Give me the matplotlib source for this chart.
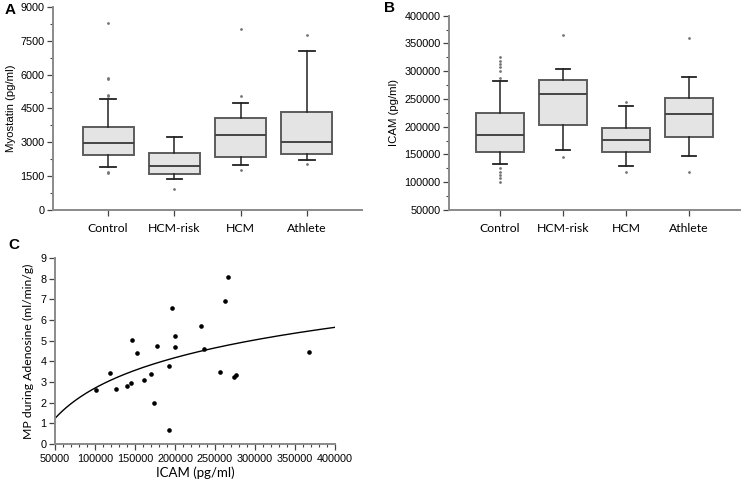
import numpy as np
import matplotlib
matplotlib.use("Agg")
import matplotlib.pyplot as plt
from matplotlib.ticker import MultipleLocator

# ---------------- data ----------------
groups = ["Control", "HCM-risk", "HCM", "Athlete"]

# Panel A: Myostatin (pg/ml) box statistics
myo_med = [2950, 1930, 3330, 2995]
myo_q1 = [2435, 1610, 2360, 2495]
myo_q3 = [3690, 2540, 4100, 4365]
myo_wlo = [1920, 1360, 1975, 2200]
myo_whi = [4925, 3245, 4735, 7035]
myo_fliers = [
    [8290, 5870, 5790, 5120, 5050, 1700, 1625],
    [915],
    [8010, 5045, 1755],
    [7745, 2035],
]

# Panel B: ICAM (pg/ml) box statistics
icam_med = [185100, 258300, 176000, 223500]
icam_q1 = [153900, 202500, 155000, 181500]
icam_q3 = [224700, 284700, 198300, 251700]
icam_wlo = [132200, 157500, 128600, 146600]
icam_whi = [282900, 304500, 237300, 290100]
icam_fliers = [
    [325000, 319000, 313000, 307000, 301000, 287000,
     125000, 119000, 113000, 107000, 101000],
    [365800, 146000],
    [244500, 119000],
    [360300, 118400],
]

# Panel C: ICAM vs MP during adenosine
sc_icam = [100800, 118750, 125800, 139600, 144600, 146700, 152900, 161300,
           169600, 174200, 177100, 192500, 192500, 196300, 200000, 200000,
           232500, 235800, 256700, 262500, 266700, 274200, 276300, 367500]
sc_mp = [2.63, 3.44, 2.68, 2.83, 2.96, 5.04, 4.38, 3.12,
         3.39, 1.99, 4.75, 3.77, 0.66, 6.58, 5.22, 4.70,
         5.72, 4.62, 3.47, 6.92, 8.06, 3.26, 3.35, 4.47]
# logarithmic fit line y = a*ln(x) + b
fit_a = 2.12
fit_b = -21.70
fit_range = (50000, 400000)

# ---------------- style ----------------
TICK_FONT = ["Liberation Sans", "DejaVu Sans"]
LABEL_FONT = ["Lato", "DejaVu Sans"]
SPINE_COL = "#8a8a8a"
TICK_SIZE = 7.8

fig = plt.figure(figsize=(7.42, 4.84), dpi=100)


def style_axes(ax):
    for s in ["top", "right"]:
        ax.spines[s].set_visible(False)
    for s in ["left", "bottom"]:
        ax.spines[s].set_color(SPINE_COL)
        ax.spines[s].set_linewidth(1.4)
    ax.tick_params(axis="both", which="major", length=4, width=0.9,
                   color="#444444", direction="out")
    ax.tick_params(axis="y", which="major", labelsize=TICK_SIZE, pad=2)
    ax.tick_params(axis="both", which="minor", length=2.5, width=0.8,
                   color="#444444", direction="out")
    for lab in ax.get_yticklabels():
        lab.set_family(TICK_FONT)


def box_panel(ax, med, q1, q3, wlo, whi, fliers):
    stats = []
    for i in range(len(groups)):
        stats.append(dict(med=med[i], q1=q1[i], q3=q3[i], whislo=wlo[i],
                          whishi=whi[i], fliers=fliers[i], label=groups[i]))
    ax.bxp(stats, positions=np.arange(1, len(groups) + 1), widths=0.77,
           patch_artist=True, capwidths=0.23,
           boxprops=dict(facecolor="#e4e4e4", edgecolor="#5c5c5c", linewidth=1.4),
           medianprops=dict(color="#444444", linewidth=1.4),
           whiskerprops=dict(color="#222222", linewidth=1.1),
           capprops=dict(color="#222222", linewidth=1.3),
           flierprops=dict(marker=".", markersize=2.0, markerfacecolor="#777777",
                           markeredgecolor="#777777", linestyle="none"))
    ax.set_xticks(np.arange(1, len(groups) + 1))
    ax.set_xticklabels(groups, family=LABEL_FONT, fontsize=8.8)
    ax.tick_params(axis="x", which="major", pad=5)


# ---- Panel A ----
axA = fig.add_axes([53 / 742, 1 - 210 / 484, 309 / 742, 203 / 484])
box_panel(axA, myo_med, myo_q1, myo_q3, myo_wlo, myo_whi, myo_fliers)
axA.set_xlim(0.17, 4.83)
axA.set_ylim(0, 9000)
axA.yaxis.set_major_locator(MultipleLocator(1500))
axA.yaxis.set_minor_locator(MultipleLocator(750))
style_axes(axA)
axA.set_ylabel("Myostatin (pg/ml)", family=TICK_FONT, fontsize=8.2, labelpad=3)
fig.text(5 / 742, 1 - 10 / 484, "A", fontsize=11, fontweight="bold",
         family=TICK_FONT, va="center", ha="left")

# ---- Panel B ----
axB = fig.add_axes([449 / 742, 1 - 210 / 484, 291 / 742, 194.3 / 484])
box_panel(axB, icam_med, icam_q1, icam_q3, icam_wlo, icam_whi, icam_fliers)
axB.set_xlim(0.19, 4.81)
axB.set_ylim(50000, 400000)
axB.yaxis.set_major_locator(MultipleLocator(50000))
axB.yaxis.set_minor_locator(MultipleLocator(25000))
style_axes(axB)
axB.set_ylabel("ICAM (pg/ml)", family=TICK_FONT, fontsize=8.2, labelpad=4)
fig.text(384 / 742, 1 - 8 / 484, "B", fontsize=11, fontweight="bold",
         family=TICK_FONT, va="center", ha="left")

# ---- Panel C ----
axC = fig.add_axes([55 / 742, 1 - 444 / 484, 280 / 742, 186 / 484])
axC.scatter(sc_icam, sc_mp, s=11, color="black", zorder=3, linewidths=0)
xf = np.linspace(fit_range[0], fit_range[1], 300)
axC.plot(xf, fit_a * np.log(xf) + fit_b, color="black", linewidth=1.0)
axC.set_xlim(50000, 400000)
axC.set_ylim(0, 9)
axC.xaxis.set_major_locator(MultipleLocator(50000))
axC.xaxis.set_minor_locator(MultipleLocator(10000))
axC.yaxis.set_major_locator(MultipleLocator(1))
style_axes(axC)
axC.tick_params(axis="x", which="major", labelsize=TICK_SIZE, pad=3)
for lab in axC.get_xticklabels():
    lab.set_family(TICK_FONT)
axC.set_xlabel("ICAM (pg/ml)", family=LABEL_FONT, fontsize=9.5, labelpad=2)
axC.set_ylabel("MP during Adenosine (ml/min/g)", family=LABEL_FONT,
               fontsize=8.8, labelpad=5)
fig.text(8 / 742, 1 - 245 / 484, "C", fontsize=11, fontweight="bold",
         family=TICK_FONT, va="center", ha="left")

fig.savefig("out.png", dpi=100)
